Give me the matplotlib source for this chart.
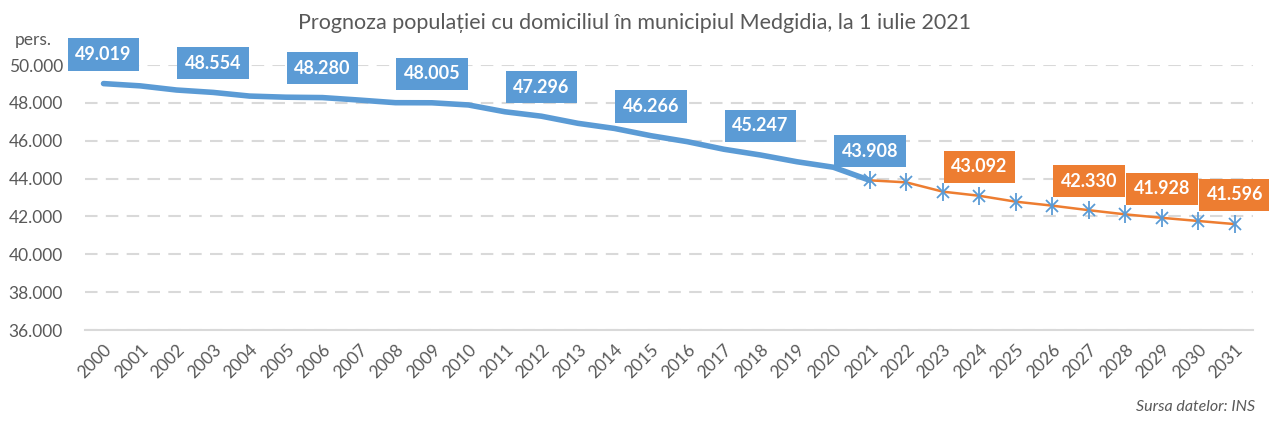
#!/usr/bin/env python3
# Medgidia population forecast, 2000-2031

import matplotlib.pyplot as plt
from matplotlib.ticker import FuncFormatter

plt.rcParams['font.family'] = ['Lato', 'DejaVu Sans']

years = list(range(2000, 2032))
hist_vals = [49019, 48900, 48680, 48554, 48360, 48300, 48280, 48150, 48010, 48005,
             47890, 47530, 47296, 46920, 46650, 46266, 45950, 45550, 45247, 44890,
             44600, 43908]
proj_vals = [43908, 43800, 43310, 43092, 42780, 42570, 42330, 42110, 41928, 41760,
             41596]
hist_labels = [2000, 2003, 2006, 2009, 2012, 2015, 2018, 2021]
proj_labels = [2024, 2027, 2029, 2031]

blue = '#5B9BD5'
orange = '#ED7D31'
grey = '#595959'

x_hist = list(range(len(hist_vals)))
x_proj = list(range(len(hist_vals) - 1, len(years)))

fig = plt.figure(figsize=(12.69, 4.25), dpi=100)
ax = fig.add_axes([0.0672, 0.2235, 0.9202, 0.6235])

ax.plot(x_hist, hist_vals, color=blue, lw=4, solid_capstyle='round', zorder=3)
ax.plot(x_proj, proj_vals, color=orange, lw=1.8, zorder=3)
# Excel-style asterisk: an X plus a vertical bar
ax.plot(x_proj, proj_vals, ls='none', marker='x', ms=9, mew=1.3, color=blue, zorder=4)
ax.plot(x_proj, proj_vals, ls='none', marker='|', ms=13, mew=1.3, color=blue, zorder=4)


def fmt(v):
    return f'{v:,.0f}'.replace(',', '.')


for yr in hist_labels:
    i = years.index(yr)
    ax.annotate(fmt(hist_vals[i]), (i, hist_vals[i]), xytext=(0, 21),
                textcoords='offset points', ha='center', va='center',
                color='white', fontsize=13, fontweight='bold', zorder=5,
                bbox=dict(boxstyle='square,pad=0.42', fc=blue, ec='none'))
for yr in proj_labels:
    i = years.index(yr)
    v = proj_vals[i - x_proj[0]]
    ax.annotate(fmt(v), (i, v), xytext=(0, 21),
                textcoords='offset points', ha='center', va='center',
                color='white', fontsize=13, fontweight='bold', zorder=5,
                bbox=dict(boxstyle='square,pad=0.42', fc=orange, ec='none'))

ax.set_xlim(-0.5, len(years) - 0.5)
ax.set_ylim(36000, 50000)
ax.set_yticks(range(36000, 50001, 2000))
ax.yaxis.set_major_formatter(FuncFormatter(lambda v, p: fmt(v)))
ax.set_xticks(range(len(years)))
ax.set_xticklabels([str(y) for y in years], rotation=45, ha='right',
                   rotation_mode='anchor')
ax.tick_params(axis='both', length=0, labelsize=12.5, colors=grey)
ax.tick_params(axis='x', pad=8)
ax.tick_params(axis='y', pad=16)

ax.grid(axis='y', color='#D9D9D9', lw=1.5, ls=(0, (6, 4)), zorder=0)
for s in ['top', 'right', 'left']:
    ax.spines[s].set_visible(False)
ax.spines['bottom'].set_color('#D9D9D9')
ax.spines['bottom'].set_linewidth(1.5)
ax.set_axisbelow(True)

fig.text(0.5, 0.945, 'Prognoza populației cu domiciliul în municipiul Medgidia, la 1 iulie 2021',
         ha='center', va='center', fontsize=15.5, color=grey)
fig.text(0.012, 0.905, 'pers.', ha='left', va='center', fontsize=12.5, color=grey)
fig.text(0.989, 0.025, 'Sursa datelor: INS', ha='right', va='bottom', fontsize=11.5,
         color=grey, style='italic')

fig.savefig('out.png', dpi=100)
